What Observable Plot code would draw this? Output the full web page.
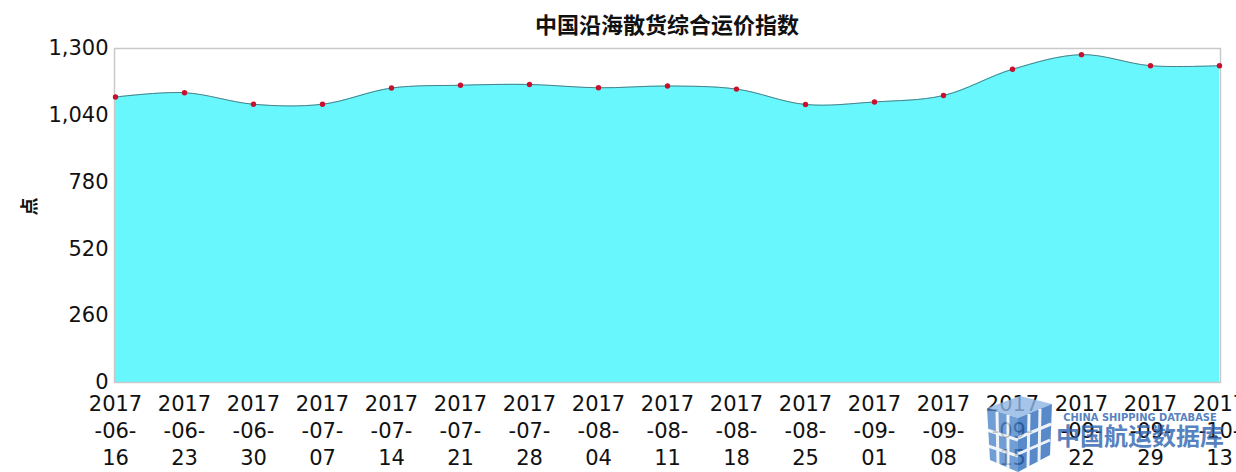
<!DOCTYPE html>
<html>
<head>
<meta charset="utf-8">
<script src="https://cdn.jsdelivr.net/npm/d3@7"></script>
<script src="https://cdn.jsdelivr.net/npm/@observablehq/plot@0.6"></script>
<style>
  html, body { margin: 0; padding: 0; background: #fff; }
  #wrap { position: relative; width: 1236px; height: 472px; overflow: hidden; }
  #title { position: absolute; left: 114px; top: 10px; width: 1106px; text-align: center;
    font: bold 22px "Noto Sans CJK SC", sans-serif; color: #111; line-height: 26px; }
  #logo { position: absolute; left: 980px; top: 390px; width: 256px; height: 82px; pointer-events: none; }
  #chart svg { display: block; }
</style>
</head>
<body>
<div id="wrap">
  <div id="chart"></div>
  <div id="title">中国沿海散货综合运价指数</div>
  <svg id="logo" width="256" height="82" viewBox="0 0 256 82">
    <g opacity="0.8">
      <polygon points="7,18 40,6 72,14 38,28" fill="#8fb6e6"/>
      <polygon points="7,18 38,28 38,82 10,70" fill="#4f86cc"/>
      <polygon points="38,28 72,14 70,65 38,82" fill="#2f6dbd"/>
      <g stroke="#fff" stroke-width="3" fill="none" opacity="0.9">
        <line x1="17" y1="22" x2="18" y2="74"/>
        <line x1="28" y1="25" x2="28" y2="78"/>
        <line x1="7" y1="40" x2="38" y2="50"/>
        <line x1="8" y1="56" x2="38" y2="66"/>
        <line x1="49" y1="24" x2="48" y2="77"/>
        <line x1="60" y1="19" x2="59" y2="71"/>
        <line x1="38" y1="48" x2="71" y2="34"/>
        <line x1="38" y1="64" x2="70" y2="50"/>
      </g>
    </g>
    <text x="160" y="31" text-anchor="middle" font-family="'DejaVu Sans Condensed', 'DejaVu Sans', sans-serif" font-weight="bold" font-size="11" fill="#3a6db3" opacity="0.85">CHINA SHIPPING DATABASE</text>
    <text x="160" y="55" text-anchor="middle" font-family="'Noto Sans CJK SC', sans-serif" font-weight="bold" font-size="24" fill="#2f64b0" opacity="0.8">中国航运数据库</text>
  </svg>
</div>
<script>
const dates = ["2017-06-16","2017-06-23","2017-06-30","2017-07-07","2017-07-14","2017-07-21","2017-07-28","2017-08-04","2017-08-11","2017-08-18","2017-08-25","2017-09-01","2017-09-08","2017-09-15","2017-09-22","2017-09-29","2017-10-13"];
const values = [1111, 1128, 1083, 1083, 1146, 1157, 1160, 1147, 1154, 1142, 1082, 1092, 1117, 1219, 1276, 1233, 1233];
const yTicks = [0, 260, 520, 780, 1040, 1300];
const yLabel = "点";

const data = dates.map((d, i) => ({date: d, value: values[i]}));
const fmtDate = d => { const [y, m, dd] = d.split("-"); return `${y}\n-${m}-\n${dd}`; };
const fmtNum = d3.format(",d");

const chart = Plot.plot({
  width: 1236,
  height: 472,
  marginTop: 48,
  marginBottom: 90,
  marginLeft: 114,
  marginRight: 16,
  style: {fontFamily: "'DejaVu Sans', 'Noto Sans CJK SC', sans-serif", fontSize: "21px", color: "#111", background: "transparent"},
  x: {type: "point", domain: dates, padding: 0},
  y: {domain: [0, 1300], ticks: yTicks},
  marks: [
    Plot.areaY(data, {x: "date", y: "value", curve: "catmull-rom", fill: "#68f7fd"}),
    Plot.lineY(data, {x: "date", y: "value", curve: "catmull-rom", stroke: "#4f7f88", strokeWidth: 1}),
    Plot.frame({stroke: "#c9c9c9", strokeWidth: 1.5}),
    Plot.dot(data, {x: "date", y: "value", r: 2.7, fill: "#c8102e", stroke: "none"}),
    Plot.axisY({ticks: yTicks, tickFormat: fmtNum, tickSize: 0, tickPadding: 6, label: null, fontSize: 21}),
    Plot.axisX({tickFormat: fmtDate, tickSize: 0, tickPadding: 9, label: null, lineHeight: 1.3, fontSize: 21}),
    Plot.text([yLabel], {frameAnchor: "left", dx: -84, rotate: -90, fontWeight: "bold", fontSize: 18, fill: "#111", fontFamily: "'Noto Sans CJK SC', sans-serif"})
  ]
});
document.getElementById("chart").appendChild(chart);
</script>
</body>
</html>
